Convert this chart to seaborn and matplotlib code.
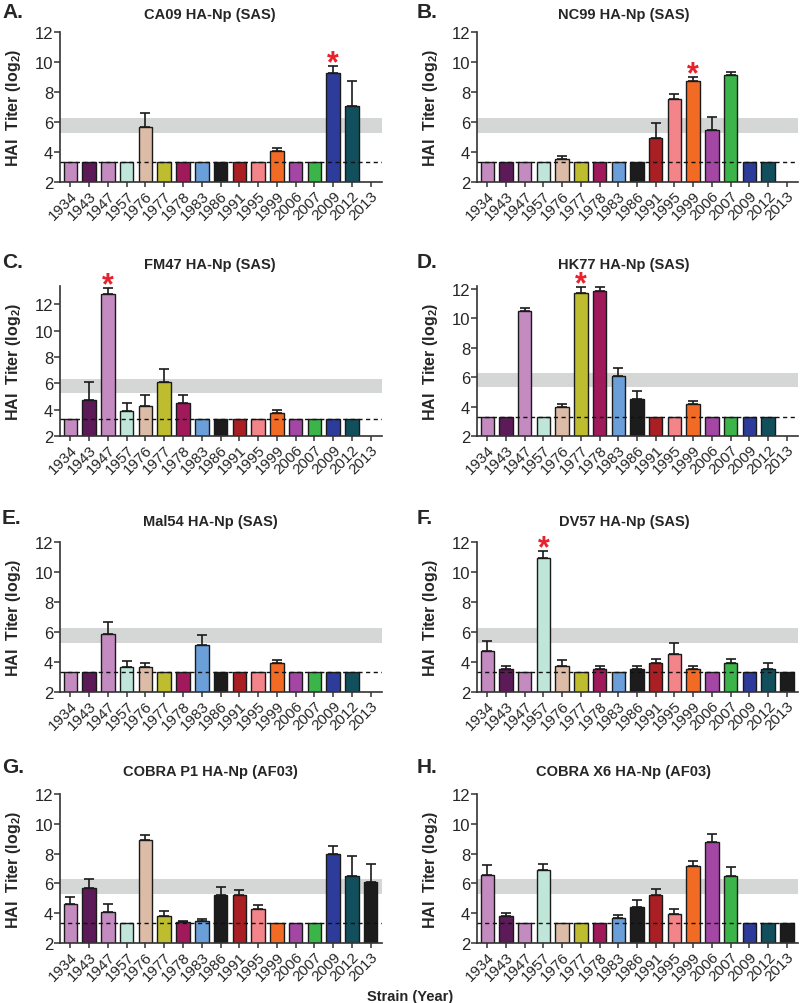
import numpy as np
import pandas as pd
import matplotlib
matplotlib.use("Agg")
import matplotlib.pyplot as plt
import seaborn as sns

sns.set_style("ticks")
plt.rcParams["font.family"] = ["Liberation Sans", "DejaVu Sans"]
plt.rcParams["mathtext.fontset"] = "custom"
plt.rcParams["mathtext.rm"] = "Liberation Sans"
plt.rcParams["mathtext.bf"] = "Liberation Sans:bold"

# ── Data ──
years = ["1934", "1943", "1947", "1957", "1976", "1977", "1978", "1983", "1986",
         "1991", "1995", "1999", "2006", "2007", "2009", "2012", "2013"]
year_colors = ["#c48bc0", "#5c1a58", "#c48bc0", "#bfe6d9", "#dcbca6", "#bdbd2f",
               "#a0195a", "#6b9fd9", "#1c1c1c", "#a91f24", "#f3858a", "#f26b25",
               "#a447a4", "#3bb54a", "#2d3c9b", "#124f5d", "#1c1c1c"]
L = 3.32          # limit of detection (dashed line)
nan = np.nan

ca09_mean = [L, L, L, L, 5.70, L, L, L, L, L, L, 4.07, L, L, 9.29, 7.07, nan]
ca09_err = [0, 0, 0, 0, 0.90, 0, 0, 0, 0, 0, 0, 0.22, 0, 0, 0.44, 1.69, nan]

nc99_mean = [L, L, L, L, 3.53, L, L, L, L, 4.93, 7.53, 8.71, 5.49, 9.11, L, L, nan]
nc99_err = [0, 0, 0, 0, 0.23, 0, 0, 0, 0, 0.98, 0.36, 0.27, 0.84, 0.22, 0, 0, nan]

fm47_mean = [L, 4.70, 12.76, 3.89, 4.27, 6.13, 4.52, L, L, L, L, 3.75, L, L, L, L, nan]
fm47_err = [0, 1.43, 0.50, 0.63, 0.85, 1.00, 0.60, 0, 0, 0, 0, 0.23, 0, 0, 0, 0, nan]

hk77_mean = [L, L, 10.49, L, 3.96, 11.71, 11.89, 6.11, 4.54, L, L, 4.15, L, L, L, L, nan]
hk77_err = [0, 0, 0.23, 0, 0.24, 0.40, 0.22, 0.54, 0.49, 0, 0, 0.20, 0, 0, 0, 0, nan]

mal54_mean = [L, L, 5.89, 3.68, 3.68, L, L, 5.11, L, L, L, 3.95, L, L, L, L, nan]
mal54_err = [0, 0, 0.76, 0.40, 0.27, 0, 0, 0.69, 0, 0, 0, 0.20, 0, 0, 0, 0, nan]

dv57_mean = [4.75, 3.52, L, 10.95, 3.74, L, 3.52, L, 3.52, 3.92, 4.55, 3.52, L, 3.92, L, 3.52, L]
dv57_err = [0.67, 0.22, 0, 0.43, 0.38, 0, 0.22, 0, 0.22, 0.27, 0.71, 0.22, 0, 0.27, 0, 0.44, 0]

p1_mean = [4.59, 5.70, 4.10, L, 8.92, 3.80, 3.41, 3.47, 5.19, 5.19, 4.30, L, L, L, 7.98, 6.49, 6.08]
p1_err = [0.53, 0.58, 0.50, 0, 0.33, 0.33, 0.06, 0.16, 0.56, 0.34, 0.27, 0, 0, 0, 0.56, 1.34, 1.23]

x6_mean = [6.58, 3.78, L, 6.91, L, L, L, 3.67, 4.39, 5.19, 3.92, 7.20, 8.81, 6.53, L, L, L]
x6_err = [0.67, 0.24, 0, 0.40, 0, 0, 0, 0.18, 0.47, 0.45, 0.38, 0.27, 0.51, 0.54, 0, 0, 0]

panel_letters = ["A.", "B.", "C.", "D.", "E.", "F.", "G.", "H."]
panel_titles = ["CA09 HA-Np (SAS)", "NC99 HA-Np (SAS)", "FM47 HA-Np (SAS)",
                "HK77 HA-Np (SAS)", "Mal54 HA-Np (SAS)", "DV57 HA-Np (SAS)",
                "COBRA P1 HA-Np (AF03)", "COBRA X6 HA-Np (AF03)"]
panel_means = [ca09_mean, nc99_mean, fm47_mean, hk77_mean, mal54_mean, dv57_mean, p1_mean, x6_mean]
panel_errs = [ca09_err, nc99_err, fm47_err, hk77_err, mal54_err, dv57_err, p1_err, x6_err]
star_years = ["2009", "1999", "1947", "1977", None, "1957", None, None]
panel_ytop = [12, 12, 13.4, 12.2, 12, 12, 12, 12]
band_low, band_high = 5.3, 6.3

# ── Layout (pixels) ──
W, H = 800, 1004
col_x = [(60, 382), (477, 798)]
row_y = [(33, 183), (287, 437), (543, 693), (795, 944)]
title_y = [15, 265, 522, 772]
title_x = [210, 624]
letter_x = [2, 417]
letter_y = [12, 262, 518, 768]

palette = dict(zip(years, year_colors))
fig = plt.figure(figsize=(W / 100, H / 100), dpi=100)

for i in range(8):
    r, c = divmod(i, 2)
    x0, x1 = col_x[c]
    y0, y1 = row_y[r]
    ax = fig.add_axes([x0 / W, 1 - y1 / H, (x1 - x0) / W, (y1 - y0) / H])

    df = pd.DataFrame({"year": years, "titer": panel_means[i], "err": panel_errs[i]})
    ax.axhspan(band_low, band_high, color="#d5d7d7", zorder=0, lw=0)
    sns.barplot(data=df.dropna(), x="year", y="titer", hue="year", order=years,
                hue_order=years, palette=palette, legend=False, width=0.72,
                saturation=1, edgecolor="#1a1a1a", linewidth=1.0, ax=ax, zorder=2)
    pos = np.arange(len(years))
    m = np.array(panel_means[i], dtype=float)
    e = np.array(panel_errs[i], dtype=float)
    ok = (~np.isnan(m)) & (e > 0)
    ax.errorbar(pos[ok], m[ok], yerr=[np.zeros(ok.sum()), e[ok]], fmt="none",
                ecolor="#1a1a1a", elinewidth=1.2, capsize=3.5, capthick=1.2, zorder=3)
    ax.axhline(L, color="#111111", ls=(0, (3, 2.5)), lw=1.0, zorder=4)

    if star_years[i] is not None:
        k = years.index(star_years[i])
        ax.text(k, m[k] + e[k] + 0.2, "*", color="#e8212a", fontsize=22,
                fontweight="bold", ha="center", va="center", zorder=5)

    ax.set_xlim(-0.55, 16.6)
    ax.set_ylim(2, panel_ytop[i])
    ax.set_yticks([2, 4, 6, 8, 10, 12])
    ax.tick_params(axis="y", labelsize=12, length=4, width=1.1, pad=1, color="#333333")
    ax.tick_params(axis="x", labelsize=11, length=3.5, width=1.1, pad=1, color="#333333")
    plt.setp(ax.get_xticklabels(), rotation=45, ha="right", rotation_mode="anchor")
    ax.set_xlabel("")
    ax.set_ylabel("HAI  Titer (log$_\\mathbf{2}$)", fontsize=11.5, fontweight="bold")
    ax.yaxis.set_label_coords(-0.115, 0.5)
    sns.despine(ax=ax)
    for s in ["left", "bottom"]:
        ax.spines[s].set_linewidth(1.2)
        ax.spines[s].set_color("#333333")
    ax.set_facecolor("none")

    fig.text(title_x[c] / W, 1 - title_y[r] / H, panel_titles[i], fontsize=10.5,
             fontweight="bold", ha="center", va="center")
    fig.text(letter_x[c] / W, 1 - letter_y[r] / H, panel_letters[i], fontsize=15,
             fontweight="bold", ha="left", va="center")

fig.text(410 / W, 1 - 997 / H, "Strain (Year)", fontsize=10.5, fontweight="bold",
         ha="center", va="center")

fig.savefig("out.png", dpi=100)
